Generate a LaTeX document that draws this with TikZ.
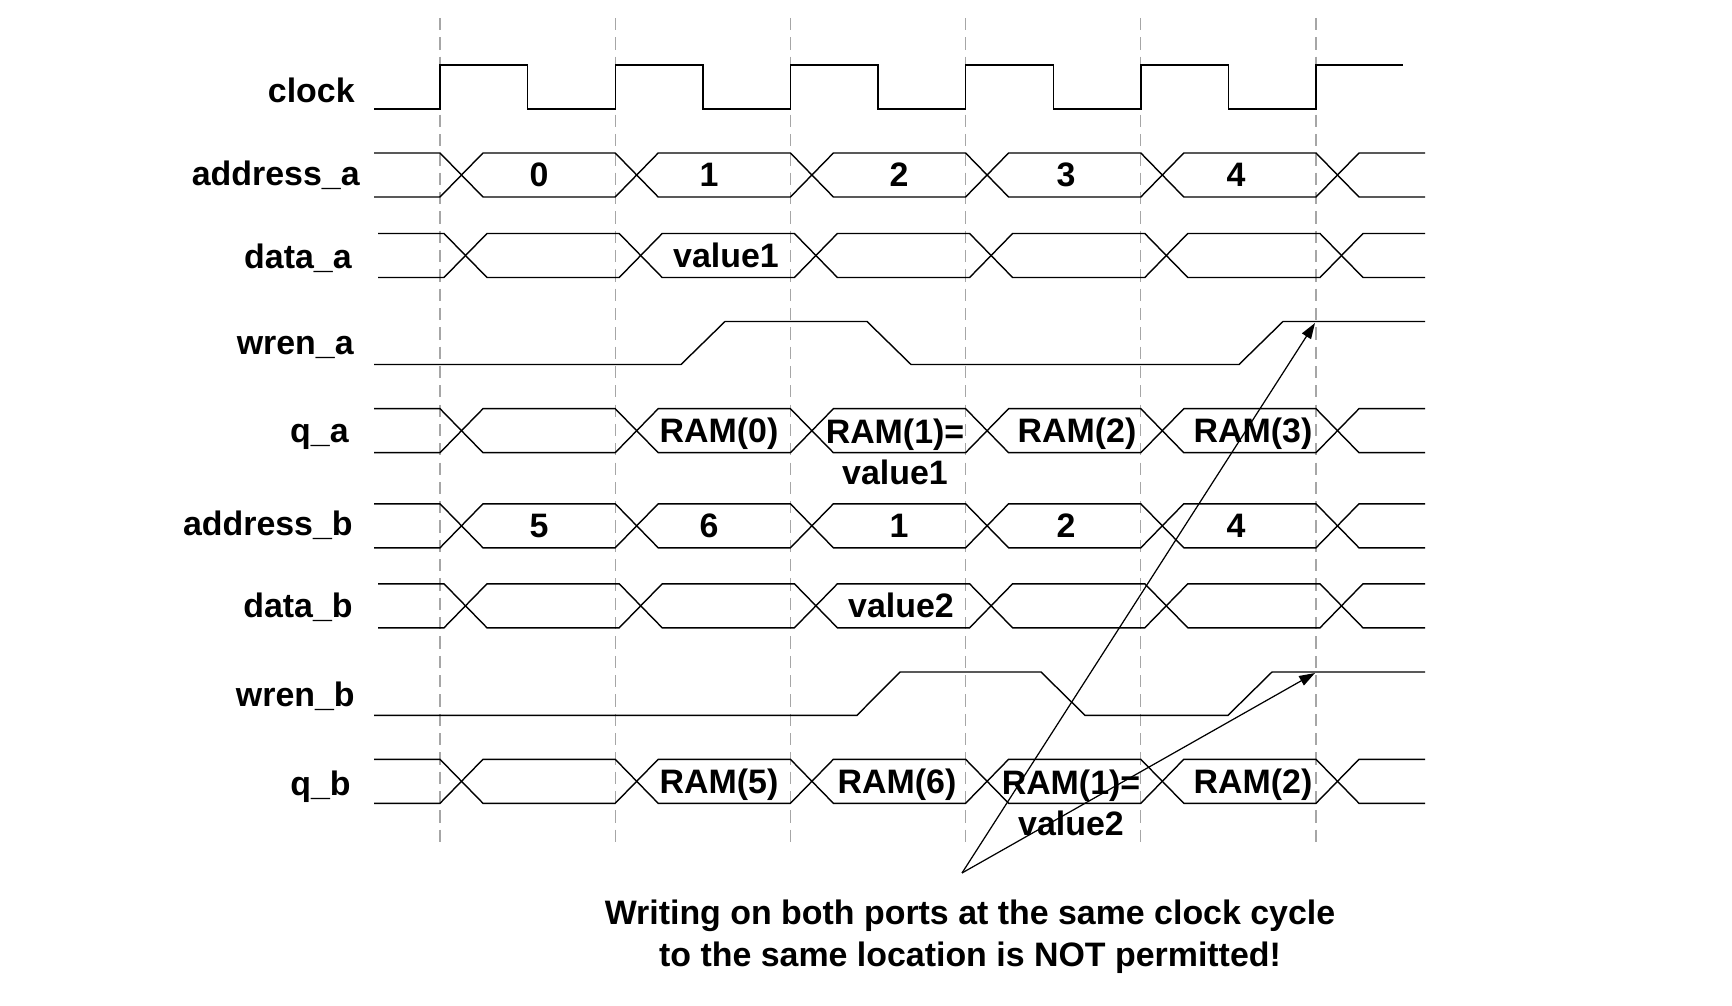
\documentclass[tikz,border=0pt]{standalone}
\usepackage{fontspec}
\setmainfont{Liberation Sans}
\usetikzlibrary{arrows.meta}

\newcommand{\busrow}[2]{%
  \draw[sig] (374+#2,#1-22) \foreach \x [count=\i] in {440,615.2,790.4,965.6,1140.8,1316}
    { -- ({\x+#2},{#1-22*cos(180*(\i-1))}) -- ({\x+#2+43},{#1-22*cos(180*\i)}) } -- (1425,#1-22);
  \draw[sig] (374+#2,#1+22) \foreach \x [count=\i] in {440,615.2,790.4,965.6,1140.8,1316}
    { -- ({\x+#2},{#1+22*cos(180*(\i-1))}) -- ({\x+#2+43},{#1+22*cos(180*\i)}) } -- (1425,#1+22);
}

\begin{document}
\begin{tikzpicture}[x=0.02cm, y=-0.02cm,
    sig/.style={line width=0.8pt, line join=miter},
    grid/.style={gray!70, line width=0.6pt, dash pattern=on 7pt off 4pt},
    lbl/.style={inner sep=0pt, font=\fontsize{19.3}{23.6}\selectfont\bfseries},
    warn/.style={line width=0.7pt, -{Triangle[length=9pt,width=6pt]}}]
    \useasboundingbox (0,0) rectangle (1732,1006);

    \foreach \x in {440,615.2,790.4,965.6,1140.8,1316}
      \draw[grid] (\x,18) -- (\x,847);

    \draw[sig] (374,109) \foreach \x in {440,615.2,790.4,965.6,1140.8}
      { -- (\x,109) -- (\x,65) -- (\x+87.6,65) -- (\x+87.6,109) } -- (1316,109) -- (1316,65) -- (1403,65);

    \busrow{175}{0}
    \busrow{255.5}{4}
    \draw[sig] (374,364.5) -- (681,364.5) -- (725,321.5) -- (867,321.5) -- (911,364.5)
      -- (1239,364.5) -- (1283,321.5) -- (1425,321.5);
    \busrow{430.7}{0}
    \busrow{525.8}{0}
    \busrow{605.8}{4}
    \draw[sig] (374,715.3) -- (857,715.3) -- (900,672) -- (1041,672) -- (1085,715.3)
      -- (1228,715.3) -- (1272,672) -- (1425,672);
    \busrow{781.3}{0}

    \node[lbl, anchor=base east] (clk) at (355,103) {clock};
    \node[lbl, anchor=base east] (addra) at (360,186) {address\_a};
    \node[lbl, anchor=base east] (dataa) at (352,269) {data\_a};
    \node[lbl, anchor=base east] (wrena) at (354,355) {wren\_a};
    \node[lbl, anchor=base east] (qa) at (349,443) {q\_a};
    \node[lbl, anchor=base east] (addrb) at (353,536) {address\_b};
    \node[lbl, anchor=base east] (datab) at (353,618) {data\_b};
    \node[lbl, anchor=base east] (wrenb) at (355,706) {wren\_b};
    \node[lbl, anchor=base east] (qb) at (351,795) {q\_b};

    \foreach \x/\t [count=\i] in {539/0,709/1,899/2,1066/3,1236/4}
      \node[lbl, anchor=base] (aa\i) at (\x,187) {\t};
    \foreach \x/\t [count=\i] in {539/5,709/6,899/1,1066/2,1236/4}
      \node[lbl, anchor=base] (ab\i) at (\x,538) {\t};

    \node[lbl, anchor=base] (da) at (726,267.5) {value1};
    \node[lbl, anchor=base] (db) at (901,618) {value2};

    \node[lbl, anchor=base] (qa1) at (719,443) {RAM(0)};
    \node[lbl, anchor=base, align=center] (qa2) at (895,485) {RAM(1)=\\value1};
    \node[lbl, anchor=base] (qa3) at (1077,443) {RAM(2)};
    \node[lbl, anchor=base] (qa4) at (1253,443) {RAM(3)};
    \node[lbl, anchor=base] (qb1) at (719,793.5) {RAM(5)};
    \node[lbl, anchor=base] (qb2) at (897,793.5) {RAM(6)};
    \node[lbl, anchor=base, align=center] (qb3) at (1071,835.5) {RAM(1)=\\value2};
    \node[lbl, anchor=base] (qb4) at (1253,793.5) {RAM(2)};

    \node[lbl, anchor=base, align=center] (note) at (970,966)
      {Writing on both ports at the same clock cycle\\to the same location is NOT permitted!};

    \coordinate (src) at (962,873);
    \coordinate (hita) at (1315,323);
    \coordinate (hitb) at (1315,673);
    \draw[warn] (src) -- (hita);
    \draw[warn] (src) -- (hitb);
\end{tikzpicture}
\end{document}
